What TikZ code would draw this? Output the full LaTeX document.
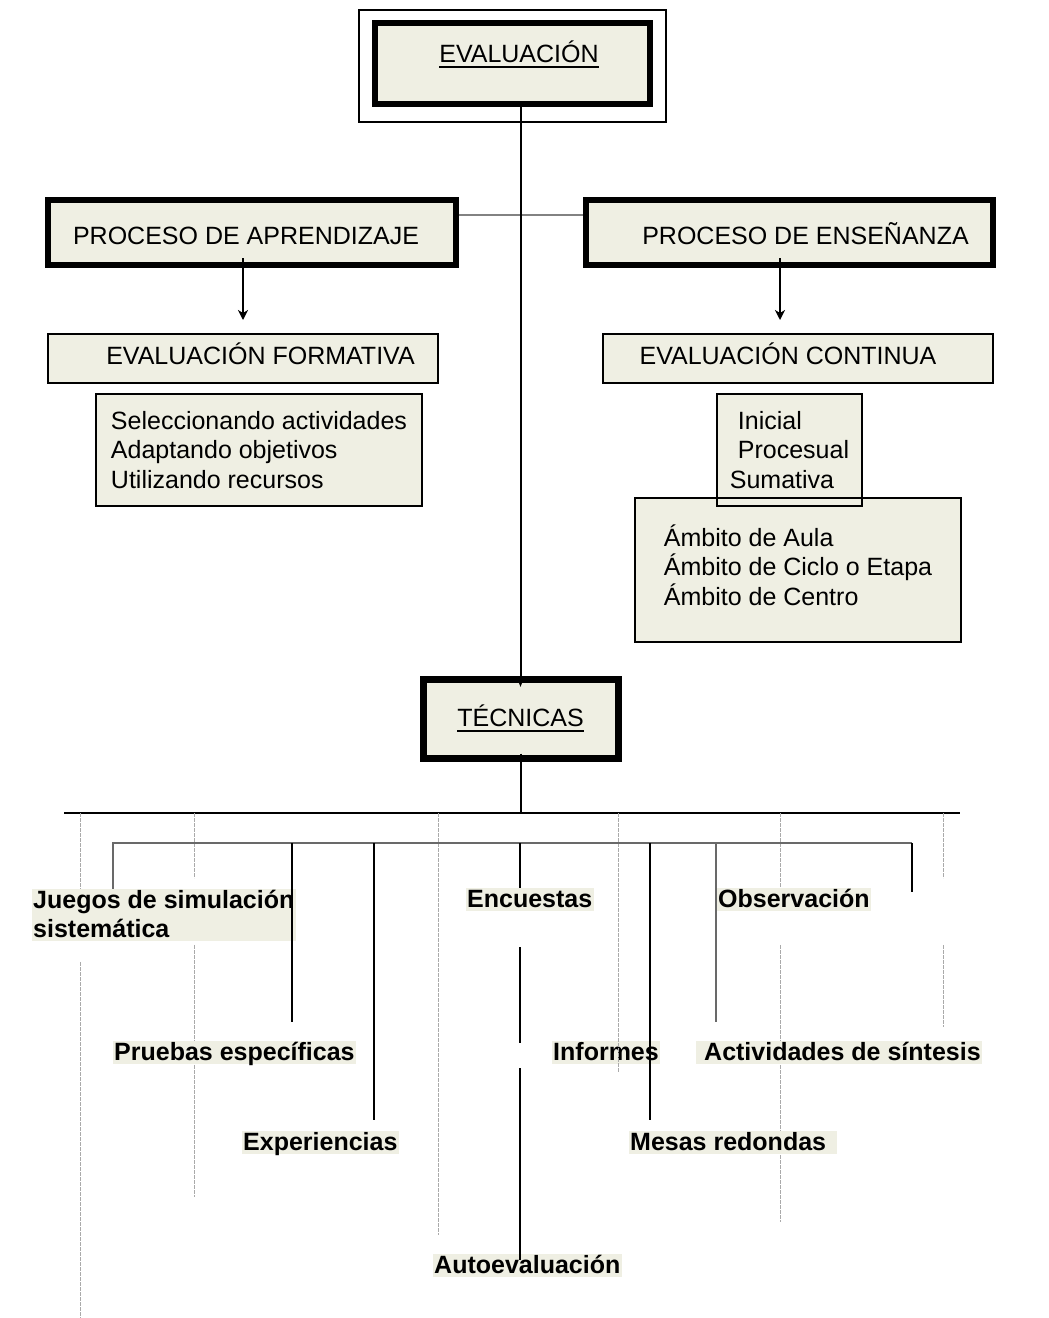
\documentclass[tikz,border=0pt]{standalone}
\usepackage{fontspec}
\setmainfont{Liberation Sans}
\usetikzlibrary{arrows.meta}
\definecolor{boxfill}{RGB}{239,239,227}
\definecolor{ramagris}{RGB}{105,105,105}
\definecolor{enlacegris}{RGB}{130,130,130}
\definecolor{guiagris}{RGB}{170,170,170}
\newsavebox{\cajasub}
\newcommand{\subrayar}[1]{\sbox{\cajasub}{#1}\rlap{\rule[-6pt]{\wd\cajasub}{2pt}}\usebox{\cajasub}}
\newcommand{\tecnica}[3]{\node[tecnica] (#1) at (#2) {#3};}
\newcommand{\guia}[3]{\draw[guia] (#1,#2) -- (#1,#3);}

\tikzset{
  thickbox/.style={draw, line width=6pt, fill=boxfill, inner ysep=2pt, font=\fontsize{25}{30}\selectfont},
  thinbox/.style={draw, line width=1.6pt, fill=boxfill, inner ysep=2pt, outer sep=0pt, font=\fontsize{25}{29.5}\selectfont},
  marcofino/.style={draw, line width=1.6pt},
  tecnica/.style={anchor=base west, fill=boxfill, inner xsep=1.5pt, inner ysep=1pt, text height=18pt, text depth=3pt, font=\fontsize{25}{29}\selectfont\bfseries},
  linea/.style={line width=2pt},
  rama/.style={line width=2.5pt, ramagris},
  enlace/.style={line width=2pt, enlacegris},
  flecha/.style={line width=2pt, -{Stealth[length=10pt,width=10pt,inset=3pt]}},
  guia/.style={line width=1pt, guiagris, dash pattern=on 4pt off 1pt},
}

\begin{document}
\begin{tikzpicture}[x=1pt,y=-1pt]
\useasboundingbox (0,0) rectangle (1049,1318);

% cabecera
\node[marcofino, minimum width=307, minimum height=112] (marco) at (512.5,66) {};
\node[thickbox, minimum width=275, minimum height=81, text depth=24pt] (eval) at (512.5,63.5) {\hspace*{13pt}\subrayar{EVALUACIÓN}};

\node[thickbox, minimum width=408, minimum height=65, text height=25pt] (aprend) at (252,232.5) {PROCESO DE APRENDIZAJE\hspace*{12pt}};
\node[thickbox, minimum width=407, minimum height=65, text height=25pt] (ensen) at (789.5,232.5) {\hspace*{32pt}PROCESO DE ENSEÑANZA};
\draw[enlace] ([yshift=17.5pt]aprend.east) -- ([yshift=17.5pt]ensen.west);

% evaluacion formativa / continua
\node[thinbox, minimum width=390, minimum height=49, text depth=10pt] (formativa) at (243,358.5) {\hspace*{35pt}EVALUACIÓN FORMATIVA};
\node[thinbox, minimum width=390, minimum height=49, text depth=10pt] (continua) at (798,358.5) {EVALUACIÓN CONTINUA\hspace*{20pt}};
\draw[flecha, shorten <=-10pt, shorten >=14pt] ([xshift=-9pt]aprend.south) -- ([xshift=-9pt]aprend.south |- formativa.north);
\draw[flecha, shorten <=-10pt, shorten >=14pt] ([xshift=-9.5pt]ensen.south) -- ([xshift=-9.5pt]ensen.south |- continua.north);

\node[thinbox, minimum width=326, minimum height=112, align=left] (acciones) at (259,450) {Seleccionando actividades\\Adaptando objetivos\\Utilizando recursos};
\node[thinbox, minimum width=145, minimum height=112, align=left] (tipos) at (789.5,450) {\hspace*{8pt}Inicial\\\hspace*{8pt}Procesual\\Sumativa};
\node[thinbox, minimum width=326, minimum height=144, align=left, text depth=10pt] (ambitos) at (798,570) {Ámbito de Aula\\Ámbito de Ciclo o Etapa\\Ámbito de Centro};
\draw[line width=1.6pt] (tipos.south west) rectangle (tipos.north east);

% tecnicas
\node[thickbox, line width=7pt, minimum width=195, minimum height=79] (tecnicas) at (520.5,718.5) {\subrayar{TÉCNICAS}};
\draw[linea, -{Latex[length=8pt,width=7pt]}, shorten >=-12pt] (eval.south -| tecnicas.north) -- (tecnicas.north);

\coordinate (bus1w) at (64,813);
\coordinate (bus1e) at (960,813);
\coordinate (bus2w) at (113,843);
\coordinate (bus2e) at (912,843);
\coordinate (finrama) at (912,892);
\coordinate (p1) at (292,843);
\coordinate (p2) at (374,843);
\coordinate (p3) at (520,843);
\coordinate (p4) at (650,843);
\coordinate (p5) at (716,843);
\coordinate (corte1) at (520,1043);
\coordinate (corte2) at (520,1068);

\draw[linea, shorten <=-8pt] (tecnicas.south) -- (tecnicas.south |- bus1w);
\draw[linea] (bus1w) -- (bus1e);

% lineas grises de fondo
\guia{80}{813}{890} \guia{80}{962}{1318}
\guia{194}{813}{878} \guia{194}{945}{1197}
\guia{438}{813}{1235}
\guia{780}{813}{887} \guia{780}{945}{1222}
\guia{943}{813}{878} \guia{943}{945}{1027}

% etiquetas
\node[tecnica, align=left, text height=47pt] (juegos) at (31.5,937) {Juegos de simulación\\sistemática};
\tecnica{encuestas}{465.5,907}{Encuestas}
\tecnica{observacion}{716.5,907}{Observación}
\tecnica{pruebas}{112.5,1060}{Pruebas específicas}
\tecnica{informes}{551.5,1060}{Informes}
\tecnica{actividades}{695.5,1060}{\hspace*{7pt}Actividades de síntesis}
\tecnica{experiencias}{241.5,1150}{Experiencias}
\tecnica{mesas}{628.5,1150}{Mesas redondas\hspace*{9pt}}
\tecnica{autoeval}{432.5,1273}{Autoevaluación}
\guia{618}{813}{1072}

% ramas
\draw[rama] (juegos.north -| bus2w) -- (bus2w) -- (bus2e);
\draw[linea] (bus2e) -- (finrama);
\draw[linea, shorten >=19pt] (p1) -- (p1 |- pruebas.north);
\draw[linea, shorten >=11pt] (p2) -- (p2 |- experiencias.north);
\draw[linea] (p3) -- (p3 |- encuestas.north);
\draw[linea, shorten >=11pt] (p4) -- (p4 |- mesas.north);
\draw[rama, shorten >=19pt] (p5) -- (p5 |- actividades.north);
\draw[linea, shorten <=36pt] (encuestas.south -| p3) -- (corte1);
\draw[linea, shorten >=-6pt] (corte2) -- (autoeval.north -| p3);

\end{tikzpicture}
\end{document}
